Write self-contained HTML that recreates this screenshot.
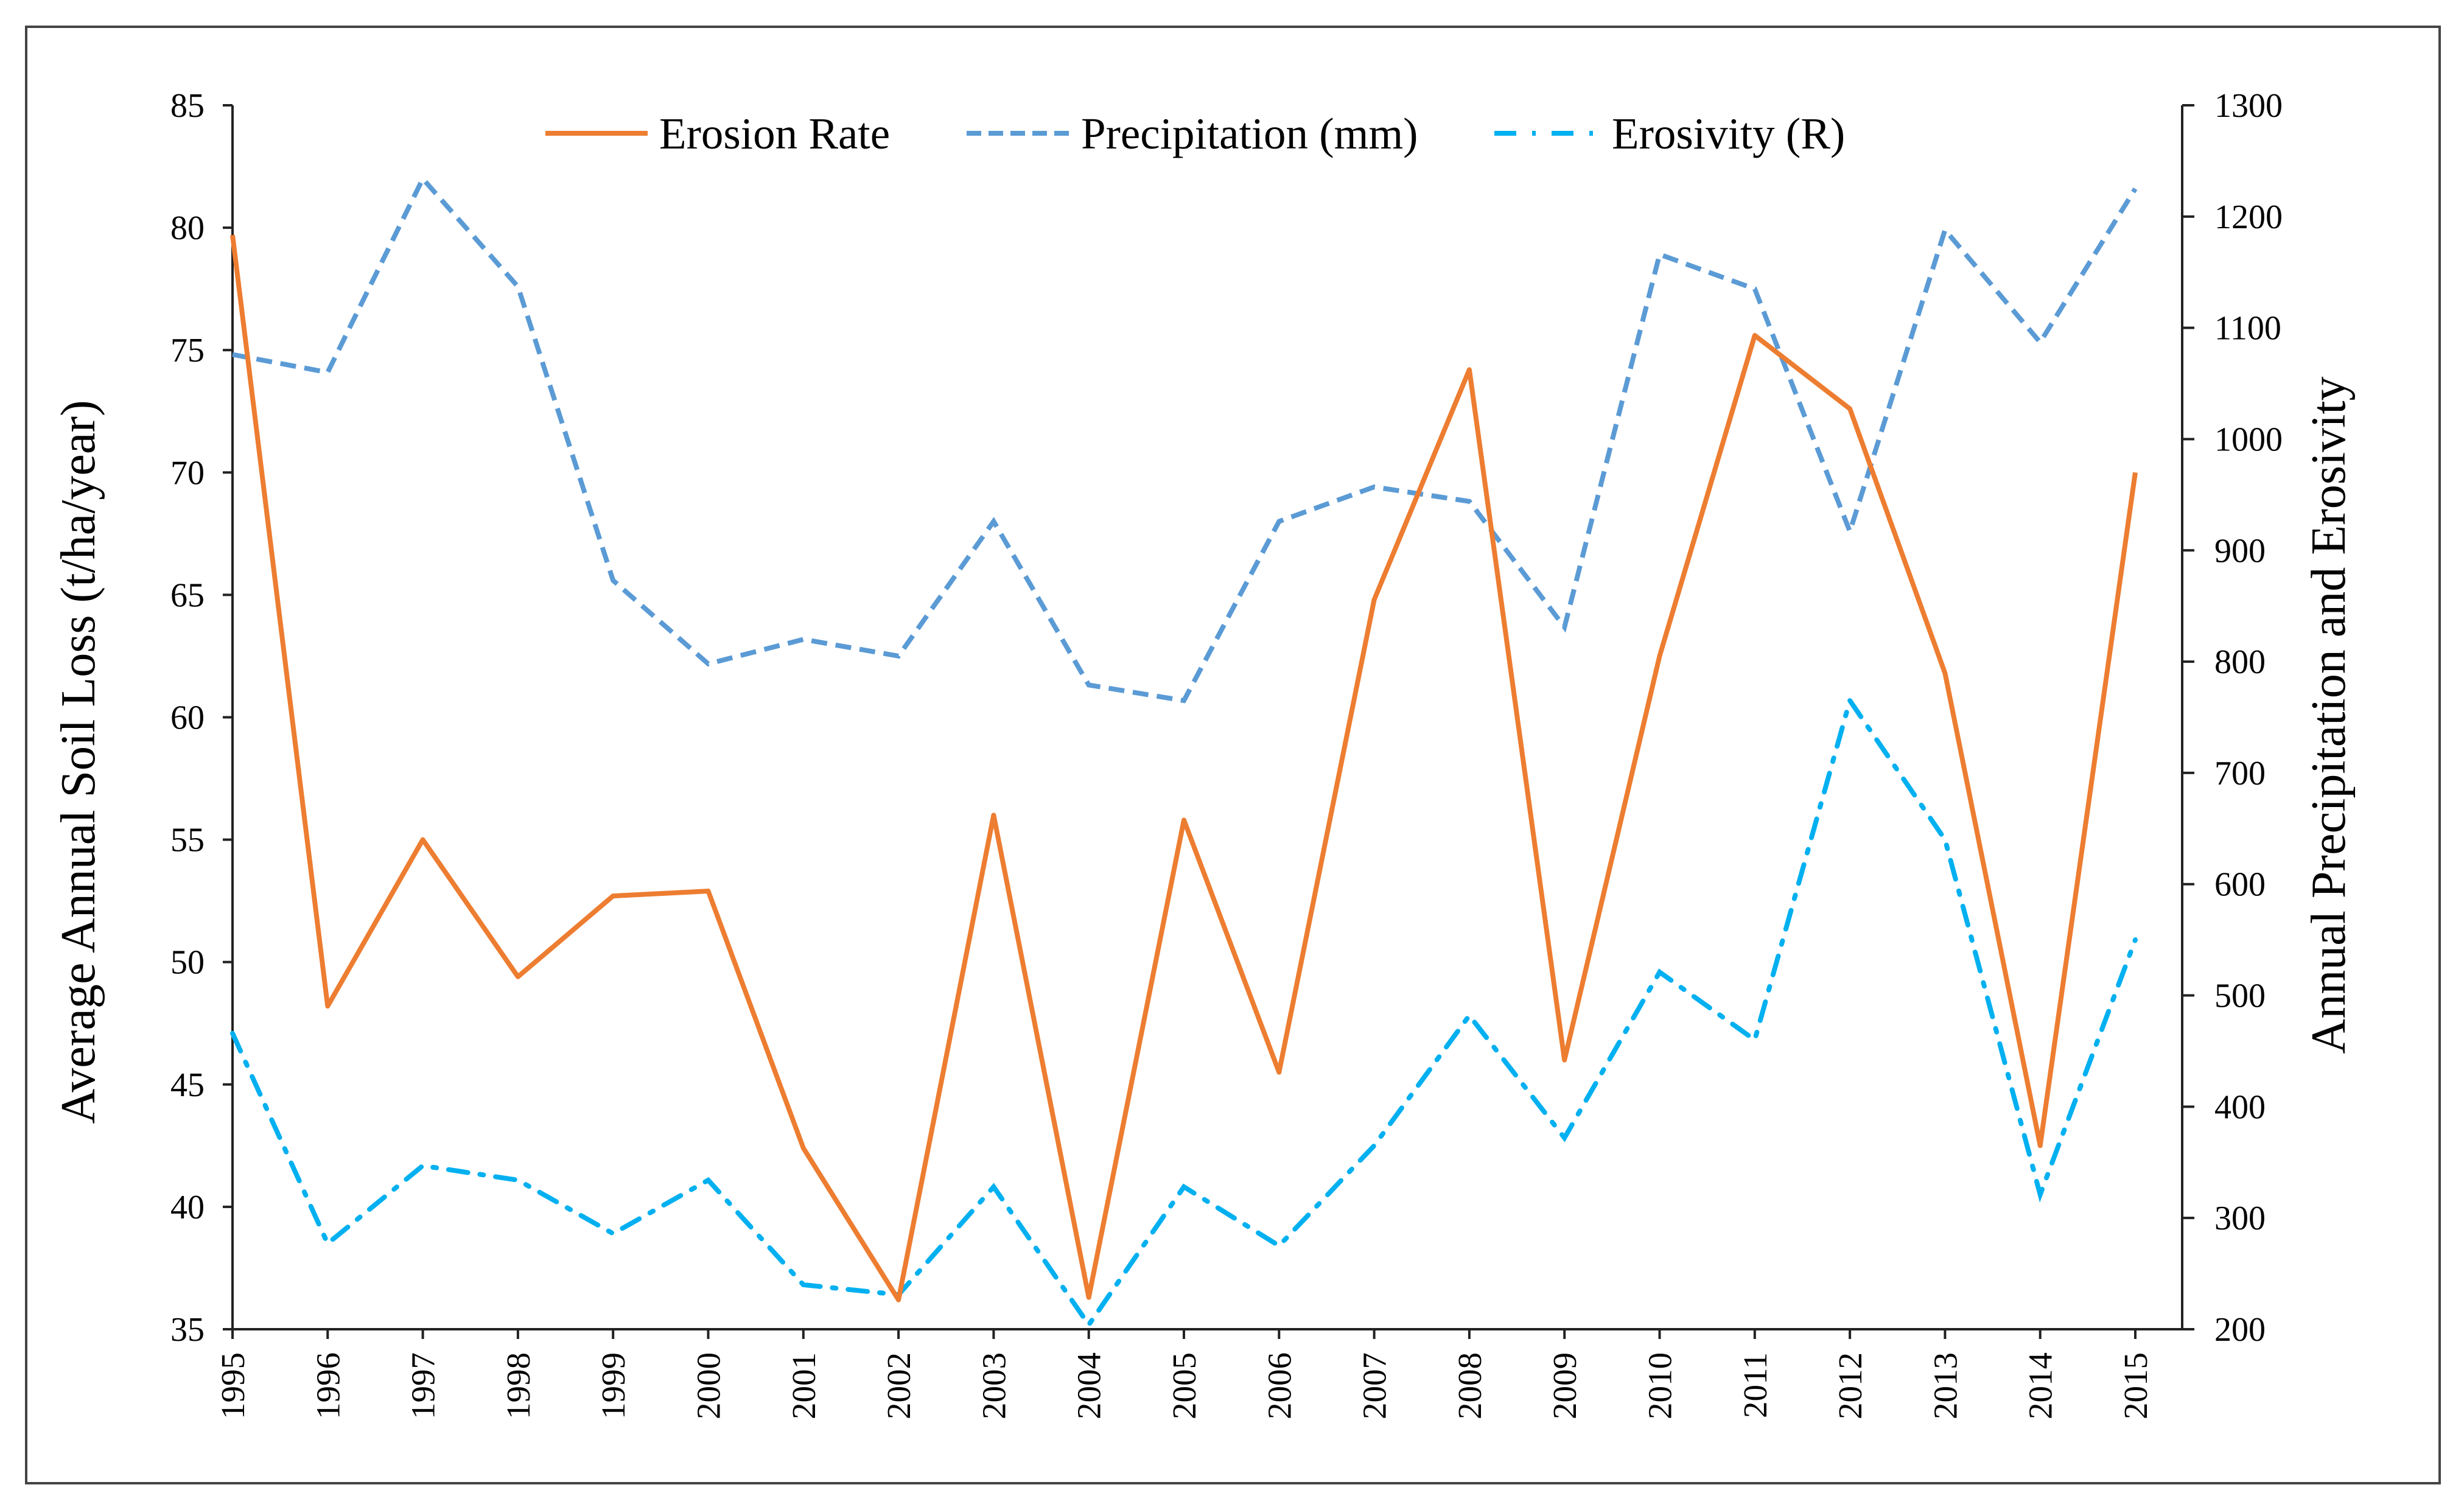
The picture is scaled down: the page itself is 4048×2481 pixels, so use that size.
<!DOCTYPE html>
<html><head><meta charset="utf-8"><style>
html,body{margin:0;padding:0;background:#fff;}
svg{display:block;font-family:"Liberation Serif",serif;}
</style></head><body>
<svg id="chart" width="4048" height="2481" viewBox="0 0 4048 2481" xmlns="http://www.w3.org/2000/svg">
<rect x="43" y="44" width="3965" height="2393" fill="#fff" stroke="#444" stroke-width="4"/>
<g id="axes"></g>
<g id="series"></g>
<g id="legend"></g>
<text transform="translate(155,1252) rotate(-90)" text-anchor="middle" font-size="80" fill="#000">Average Annual Soil Loss (t/ha/year)</text>
<text transform="translate(3852,1175) rotate(-90)" text-anchor="middle" font-size="80" fill="#000">Annual Precipitation and Erosivity</text>
</svg>
<script>
const years = [1995,1996,1997,1998,1999,2000,2001,2002,2003,2004,2005,2006,2007,2008,2009,2010,2011,2012,2013,2014,2015];
const erosionRate = [79.7,48.2,55,49.4,52.7,52.9,42.4,36.2,56,36.3,55.8,45.5,64.8,74.2,46,62.5,75.6,72.6,61.8,42.5,70];
const precipitation = [1076,1060,1234,1137,873,798,820,805,926,779,765,926,957,944,831,1166,1135,917,1188,1087,1225];
const erosivity = [466,277,347,334,286,334,240,231,328,204,328,275,365,482,372,521,460,765,640,321,550];
const leftTicks = [35,40,45,50,55,60,65,70,75,80,85];
const rightTicks = [200,300,400,500,600,700,800,900,1000,1100,1200,1300];

const NS='http://www.w3.org/2000/svg';
const L=382,R=3585,T=173,B=2184,X0=382,X1=3508;
const xS=i=>X0+(X1-X0)*i/(years.length-1);
const yL=v=>B-(v-35)/(85-35)*(B-T);
const yR=v=>B-(v-200)/(1300-200)*(B-T);
function mk(tag,attrs,parent){const e=document.createElementNS(NS,tag);for(const k in attrs)e.setAttribute(k,attrs[k]);parent.appendChild(e);return e;}
const axes=document.getElementById('axes'),series=document.getElementById('series'),legend=document.getElementById('legend');

let e=mk('line',{x1:L,y1:T,x2:L,y2:B,stroke:'#222','stroke-width':4},axes);


e=mk('line',{x1:R,y1:T,x2:R,y2:B,stroke:'#222','stroke-width':4},axes);


e=mk('line',{x1:L,y1:B,x2:R+20,y2:B,stroke:'#222','stroke-width':4},axes);



leftTicks.forEach(v=>{
  const y=yL(v);
  let t=mk('line',{x1:L-16,y1:y,x2:L,y2:y,stroke:'#222','stroke-width':4},axes);
  
  
  let tx=mk('text',{x:336,y:y+19,'text-anchor':'end','font-size':56,fill:'#000'},axes);
  tx.textContent=v;
  
  
});
rightTicks.forEach(v=>{
  const y=yR(v);
  let t=mk('line',{x1:R,y1:y,x2:R+20,y2:y,stroke:'#222','stroke-width':4},axes);
  
  
  let tx=mk('text',{x:3638,y:y+19,'text-anchor':'start','font-size':56,fill:'#000'},axes);
  tx.textContent=v;
  
  
});
years.forEach((yr,i)=>{
  const x=xS(i);
  let t=mk('line',{x1:x,y1:B,x2:x,y2:B+16,stroke:'#222','stroke-width':4},axes);
  
  
  let tx=mk('text',{transform:`translate(${x+19},${B+38}) rotate(-90)`,'text-anchor':'end','font-size':55,fill:'#000'},axes);
  tx.textContent=yr;
  
  
});

function pts(arr,yf){return arr.map((v,i)=>xS(i).toFixed(1)+','+yf(v).toFixed(1)).join(' ');}
let p=mk('polyline',{points:pts(precipitation,yR),fill:'none',stroke:'#5B9BD5','stroke-width':8,'stroke-dasharray':'26 14'},series);


p=mk('polyline',{points:pts(erosivity,yR),fill:'none',stroke:'#00B0F0','stroke-width':8,'stroke-dasharray':'32 20 6 20','stroke-linecap':'round'},series);


p=mk('polyline',{points:pts(erosionRate,yL),fill:'none',stroke:'#ED7D31','stroke-width':8,'stroke-linejoin':'round'},series);



const LY=219;
let g=mk('line',{x1:896,y1:LY,x2:1064,y2:LY,stroke:'#ED7D31','stroke-width':8},legend);


g=mk('text',{x:1083,y:LY+25,'font-size':73,fill:'#000'},legend);g.textContent='Erosion Rate';


g=mk('line',{x1:1588,y1:LY,x2:1764,y2:LY,stroke:'#5B9BD5','stroke-width':8,'stroke-dasharray':'24 12'},legend);


g=mk('text',{x:1776,y:LY+25,'font-size':73,fill:'#000'},legend);g.textContent='Precipitation (mm)';


g=mk('line',{x1:2455,y1:LY,x2:2620,y2:LY,stroke:'#00B0F0','stroke-width':8,'stroke-dasharray':'36 26 6 26'},legend);


g=mk('text',{x:2648,y:LY+25,'font-size':73,fill:'#000'},legend);g.textContent='Erosivity (R)';


</script>
</body></html>
